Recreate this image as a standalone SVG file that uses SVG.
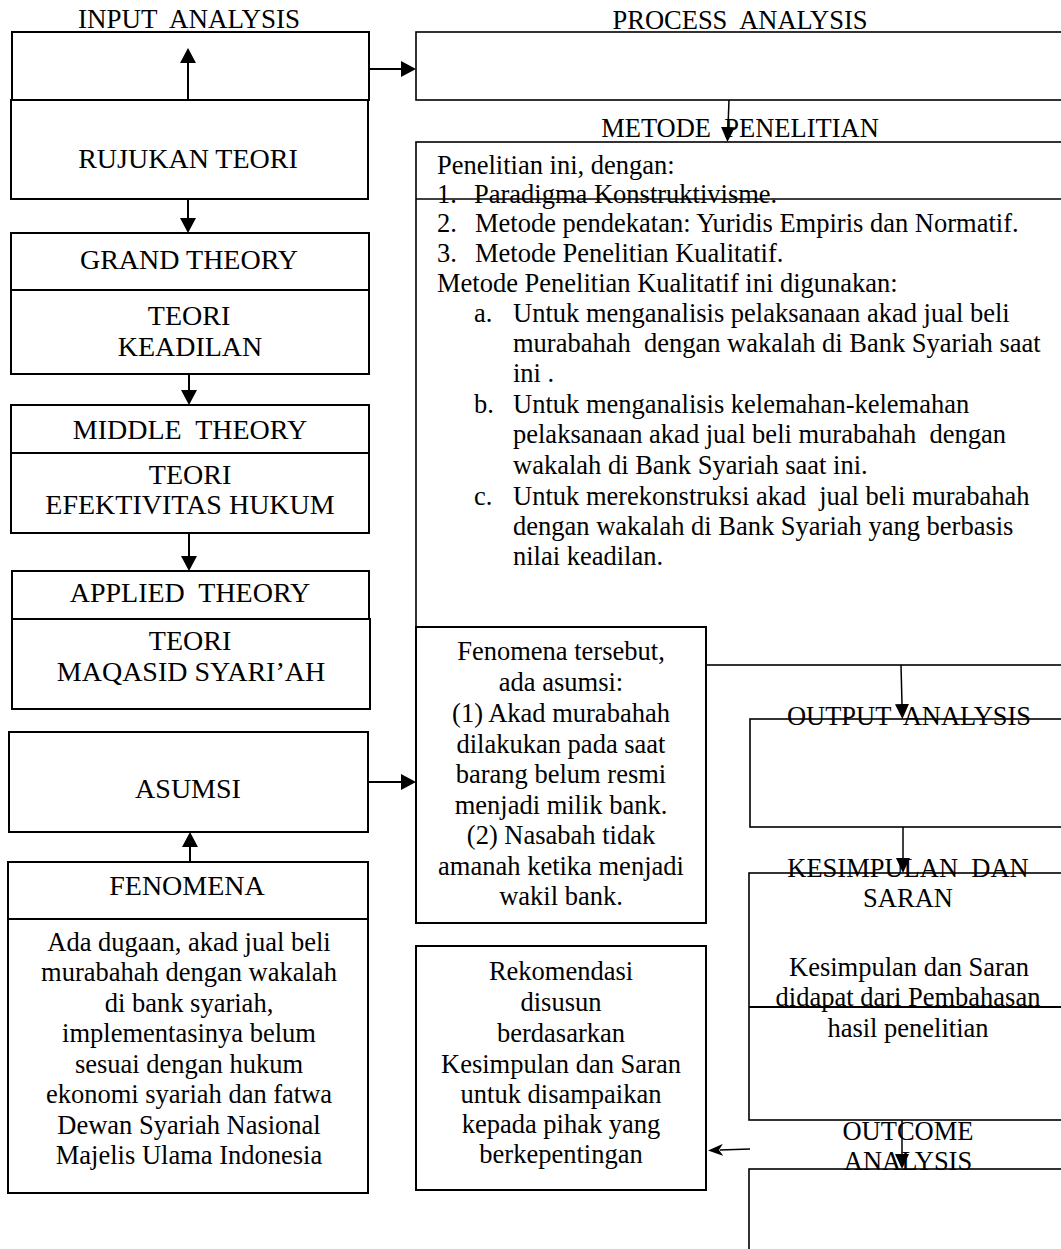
<svg xmlns="http://www.w3.org/2000/svg" width="1061" height="1249" viewBox="0 0 1061 1249">
<style>
.bx{fill:none;stroke:#000;stroke-width:2}
.bw{fill:#fff;stroke:#000;stroke-width:2}
.br{fill:none;stroke:#000;stroke-width:1.6}
.ln{stroke:#000;stroke-width:2;fill:none}
.lt{stroke:#000;stroke-width:1.5;fill:none}
text{font-family:"Liberation Serif","Times New Roman",serif;font-size:26.5px;fill:#000;white-space:pre}
.c{text-anchor:middle}
.h{font-size:28px}
.t{font-size:27px}
</style>
<defs>
<marker id="ahL" markerUnits="userSpaceOnUse" markerWidth="16" markerHeight="16" refX="0" refY="8" orient="auto"><path d="M0,0 L15,8 L0,16 z" fill="#000"/></marker>
<marker id="ah" markerUnits="userSpaceOnUse" markerWidth="15" markerHeight="14" refX="0" refY="7" orient="auto"><path d="M0,0 L15,7 L0,14 z" fill="#000"/></marker>
<marker id="ahN" markerUnits="userSpaceOnUse" markerWidth="15" markerHeight="12" refX="3" refY="6" orient="auto"><path d="M0,0 L15,6 L0,12 L4,6 z" fill="#000"/></marker>
</defs>

<g id="input-analysis">
<text class="c t" x="189" y="28" xml:space="preserve">INPUT  ANALYSIS</text>
<rect class="bx" x="12" y="32" width="357" height="68"/>
</g>
<g id="rujukan-teori">
<rect class="bx" x="11" y="100" width="357" height="99"/>
<text class="c h" x="188" y="168">RUJUKAN TEORI</text>
</g>
<g id="grand-theory">
<rect class="bx" x="11" y="233" width="358" height="141"/>
<line class="ln" x1="11" y1="290" x2="369" y2="290"/>
<text class="c h" x="189" y="269">GRAND THEORY</text>
<text class="c h" x="189" y="325">TEORI</text>
<text class="c h" x="190" y="356">KEADILAN</text>
</g>
<g id="middle-theory">
<rect class="bx" x="11" y="405" width="358" height="128"/>
<line class="ln" x1="11" y1="453" x2="369" y2="453"/>
<text class="c h" x="190" y="439" xml:space="preserve">MIDDLE  THEORY</text>
<text class="c h" x="190" y="484">TEORI</text>
<text class="c h" x="190" y="514">EFEKTIVITAS HUKUM</text>
</g>
<g id="applied-theory">
<rect class="bx" x="12" y="571" width="357" height="48"/>
<rect class="bx" x="12" y="619" width="358" height="90"/>
<text class="c h" x="190" y="602" xml:space="preserve">APPLIED  THEORY</text>
<text class="c h" x="190" y="650">TEORI</text>
<text class="c h" x="191" y="681">MAQASID SYARI’AH</text>
</g>
<g id="asumsi">
<rect class="bx" x="9" y="732" width="359" height="100"/>
<text class="c h" x="188" y="798">ASUMSI</text>
</g>
<g id="fenomena">
<rect class="bx" x="8" y="862" width="360" height="331"/>
<line class="ln" x1="8" y1="919" x2="368" y2="919"/>
<text class="c h" x="187" y="895">FENOMENA</text>
<text class="c" x="189" y="950.5">Ada dugaan, akad jual beli</text>
<text class="c" x="189" y="981">murabahah dengan wakalah</text>
<text class="c" x="189" y="1011.5">di bank syariah,</text>
<text class="c" x="189" y="1042">implementasinya belum</text>
<text class="c" x="189" y="1072.5">sesuai dengan hukum</text>
<text class="c" x="189" y="1103">ekonomi syariah dan fatwa</text>
<text class="c" x="189" y="1133.5">Dewan Syariah Nasional</text>
<text class="c" x="189" y="1164">Majelis Ulama Indonesia</text>
</g>

<g id="process-analysis">
<text class="c" x="740" y="29" xml:space="preserve">PROCESS  ANALYSIS</text>
<rect class="br" x="416" y="32" width="660" height="68"/>
</g>
<g id="metode-penelitian">
<text class="c" x="740" y="137" xml:space="preserve">METODE  PENELITIAN</text>
<rect class="br" x="416" y="142" width="660" height="523"/>
<line class="lt" x1="416" y1="199" x2="1076" y2="199"/>
<text x="437" y="174">Penelitian ini, dengan:</text>
<text x="437" y="203">1.</text><text x="474" y="203">Paradigma Konstruktivisme.</text>
<text x="437" y="232">2.</text><text x="475" y="232">Metode pendekatan: Yuridis Empiris dan Normatif.</text>
<text x="437" y="262">3.</text><text x="475" y="262">Metode Penelitian Kualitatif.</text>
<text x="437" y="292">Metode Penelitian Kualitatif ini digunakan:</text>
<text x="474" y="322">a.</text><text x="513" y="322">Untuk menganalisis pelaksanaan akad jual beli</text>
<text x="513" y="352" xml:space="preserve">murabahah  dengan wakalah di Bank Syariah saat</text>
<text x="513" y="382">ini .</text>
<text x="474" y="413">b.</text><text x="513" y="413">Untuk menganalisis kelemahan-kelemahan</text>
<text x="513" y="443" xml:space="preserve">pelaksanaan akad jual beli murabahah  dengan</text>
<text x="513" y="474">wakalah di Bank Syariah saat ini.</text>
<text x="474" y="505">c.</text><text x="513" y="505" xml:space="preserve">Untuk merekonstruksi akad  jual beli murabahah</text>
<text x="513" y="535">dengan wakalah di Bank Syariah yang berbasis</text>
<text x="513" y="565">nilai keadilan.</text>
</g>
<g id="fenomena-asumsi">
<rect class="bw" x="416" y="627" width="290" height="296"/>
<text class="c" x="561" y="660">Fenomena tersebut,</text>
<text class="c" x="561" y="691">ada asumsi:</text>
<text class="c" x="561" y="722">(1) Akad murabahah</text>
<text class="c" x="561" y="753">dilakukan pada saat</text>
<text class="c" x="561" y="783">barang belum resmi</text>
<text class="c" x="561" y="814">menjadi milik bank.</text>
<text class="c" x="561" y="844">(2) Nasabah tidak</text>
<text class="c" x="561" y="875">amanah ketika menjadi</text>
<text class="c" x="561" y="905">wakil bank.</text>
</g>
<g id="rekomendasi">
<rect class="bx" x="416" y="946" width="290" height="244"/>
<text class="c" x="561" y="980">Rekomendasi</text>
<text class="c" x="561" y="1011">disusun</text>
<text class="c" x="561" y="1042">berdasarkan</text>
<text class="c" x="561" y="1073">Kesimpulan dan Saran</text>
<text class="c" x="561" y="1103">untuk disampaikan</text>
<text class="c" x="561" y="1133">kepada pihak yang</text>
<text class="c" x="561" y="1163">berkepentingan</text>
</g>
<g id="output-analysis">
<rect class="br" x="750" y="719" width="330" height="108"/>
<text class="c" x="909" y="725" xml:space="preserve">OUTPUT  ANALYSIS</text>
</g>
<g id="kesimpulan-saran">
<rect class="br" x="749" y="873" width="330" height="247"/>
<line class="ln" x1="749" y1="1007" x2="1079" y2="1007"/>
<text class="c" x="908" y="877" xml:space="preserve">KESIMPULAN  DAN</text>
<text class="c" x="908" y="907">SARAN</text>
<text class="c" x="909" y="976">Kesimpulan dan Saran</text>
<text class="c" x="908" y="1006">didapat dari Pembahasan</text>
<text class="c" x="908" y="1037">hasil penelitian</text>
</g>
<g id="outcome-analysis">
<rect class="br" x="749" y="1169" width="330" height="100"/>
<text class="c" x="908" y="1140">OUTCOME</text>
<text class="c" x="908" y="1170">ANALYSIS</text>
</g>

<g id="connectors">
<line class="ln" x1="188" y1="100" x2="188" y2="63" marker-end="url(#ahL)"/>
<line class="ln" x1="369" y1="69" x2="401" y2="69" marker-end="url(#ahL)"/>
<line class="ln" x1="188" y1="199" x2="188" y2="218" marker-end="url(#ahL)"/>
<line class="ln" x1="189" y1="374" x2="189" y2="390" marker-end="url(#ahL)"/>
<line class="ln" x1="189" y1="533" x2="189" y2="556" marker-end="url(#ahL)"/>
<line class="ln" x1="368" y1="782" x2="401" y2="782" marker-end="url(#ahL)"/>
<line class="ln" x1="190" y1="862" x2="190" y2="847" marker-end="url(#ahL)"/>
<line class="lt" x1="729" y1="100" x2="728" y2="127" marker-end="url(#ah)"/>
<line class="lt" x1="901" y1="665" x2="902" y2="704" marker-end="url(#ah)"/>
<line class="lt" x1="903" y1="827" x2="903" y2="858" marker-end="url(#ah)"/>
<line class="lt" x1="902" y1="1120" x2="902" y2="1154" marker-end="url(#ah)"/>
<line class="lt" x1="750" y1="1149" x2="720" y2="1150" marker-end="url(#ahN)"/>
</g>
</svg>
